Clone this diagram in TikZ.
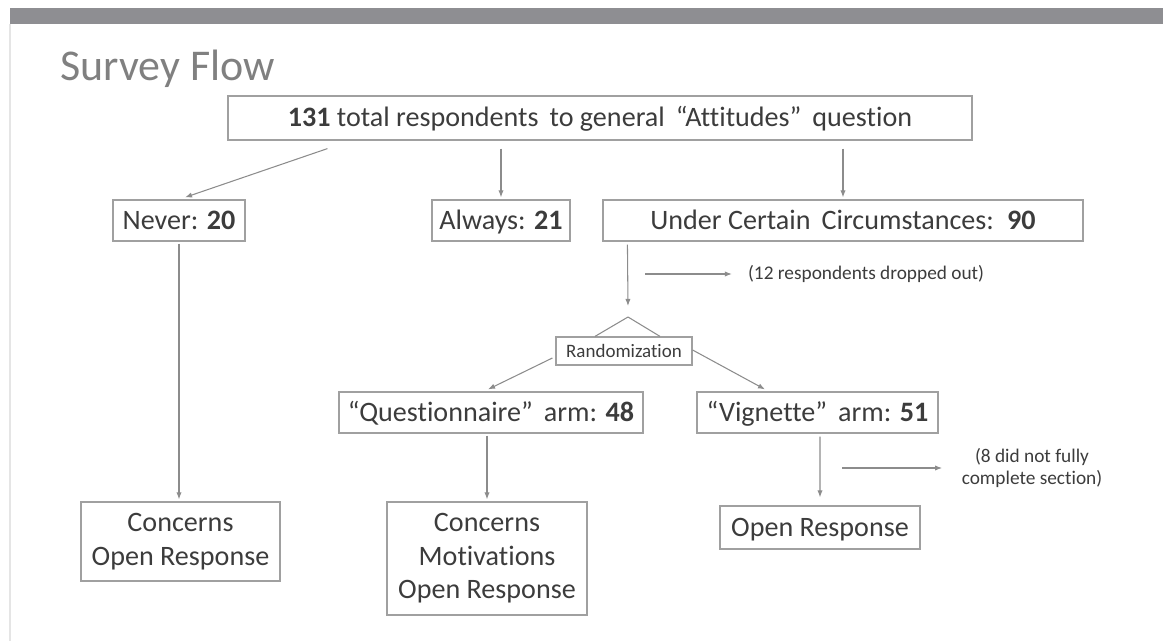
\documentclass[tikz,border=0pt]{standalone}
\usepackage{fontspec}
\setmainfont{Carlito}[Ligatures=NoCommon]
\usetikzlibrary{arrows.meta}
\definecolor{linegray}{HTML}{8C8C8C}
\definecolor{boxgray}{HTML}{A0A0A0}
\definecolor{textgray}{HTML}{3C3C3C}
\definecolor{titlegray}{HTML}{808080}
\definecolor{bargray}{HTML}{8E8E92}
\tikzset{
  stepbox/.style={draw=boxgray,line width=0.7pt,text=textgray,inner sep=0pt,
    font=\fontsize{16}{19}\selectfont,align=center},
  oneline/.style={text height=13pt,text depth=2.8pt},
  note/.style={text=textgray,font=\fontsize{11}{13}\selectfont,align=center,inner sep=1pt},
  arr/.style={draw=linegray,line width=0.6pt,-{Latex[length=4pt,width=3pt]}},
  leg/.style={draw=linegray,line width=0.6pt}
}
\begin{document}
\begin{tikzpicture}[x=0.02cm,y=-0.02cm]
\useasboundingbox (0,0) rectangle (1163,641);
\fill[bargray] (10,8) rectangle (1163,24);
\draw[gray!20,line width=0.8pt] (10,24) -- (10,641);
\node[anchor=west,text=titlegray,font=\fontsize{25}{30}\selectfont,inner sep=0pt] (title) at (60,69) {Survey Flow};

\begin{scope}[every node/.style={stepbox}]
    \node[oneline,minimum width=14.88cm,minimum height=0.88cm] (top) at (600,118) {\textbf{131} total respondents\, to general \,“Attitudes”\, question};
    \node[oneline,minimum width=2.64cm,minimum height=0.82cm] (never) at (179,220.5) {Never: \textbf{20}};
    \node[oneline,minimum width=2.76cm,minimum height=0.82cm] (always) at (501,220.5) {Always: \textbf{21}};
    \node[oneline,minimum width=9.6cm,minimum height=0.82cm] (under) at (843,220.5) {Under Certain\, Circumstances:\, \textbf{90}};
    \node[text height=8.5pt,text depth=1.6pt,minimum width=2.72cm,minimum height=0.56cm,font=\fontsize{10.8}{13}\selectfont] (rand) at (624,351) {Randomization};
    \node[oneline,minimum width=6.08cm,minimum height=0.82cm] (quest) at (491,412.5) {“Questionnaire”\, arm: \textbf{48}};
    \node[oneline,minimum width=4.82cm,minimum height=0.82cm] (vign) at (817.5,412.5) {“Vignette”\, arm: \textbf{51}};
    \node[minimum width=3.98cm,minimum height=1.58cm] (leftres) at (180.5,541.5) {Concerns\\Open Response};
    \node[minimum width=4cm,minimum height=2.26cm] (midres) at (487,558.5) {Concerns\\Motivations\\Open Response};
    \node[oneline,minimum width=4cm,minimum height=0.86cm] (rightres) at (820,527.5) {Open Response};
\end{scope}

\node[note,anchor=west] (drop) at (746,274) {(12 respondents dropped out)};
\node[note] (notfull) at (1032,468) {(8 did not fully\\complete section)};

\coordinate (split) at (628,317);
\coordinate (dropstart) at (645,274);
\coordinate (notstart) at (842,468);

\draw[arr] ([xshift=2cm,yshift=-0.16cm]top.south west) -- ([xshift=0.12cm,yshift=0.04cm]never.north);
\draw[arr] ([yshift=-0.16cm]top.south -| always) -- ([yshift=0.04cm]always.north);
\draw[arr] ([yshift=-0.16cm]top.south -| under) -- ([yshift=0.04cm]under.north);
\draw[arr] ([xshift=0.5cm,yshift=-0.06cm]under.south west) -- ([yshift=0.22cm]split);
\draw[arr,shorten >=8pt] (dropstart) -- (drop.west);
\draw[leg] (split) -- ([xshift=-0.58cm]rand.north);
\draw[leg] (split) -- ([xshift=0.72cm]rand.north);
\draw[arr] ([xshift=-0.06cm,yshift=-0.14cm]rand.west) -- ([xshift=-0.06cm,yshift=0.04cm]quest.north);
\draw[arr] ([yshift=0.02cm]rand.east) -- ([xshift=-1.05cm,yshift=0.04cm]vign.north);
\draw[arr] ([yshift=-0.04cm]never.south) -- ([yshift=0.04cm]leftres.north -| never);
\draw[arr] ([yshift=-0.04cm]quest.south -| midres) -- ([yshift=0.04cm]midres.north);
\draw[arr] ([xshift=0.05cm,yshift=-0.06cm]vign.south) -- ([yshift=0.16cm]rightres.north);
\draw[arr,shorten >=10pt] (notstart) -- (notfull.west);

\end{tikzpicture}
\end{document}
